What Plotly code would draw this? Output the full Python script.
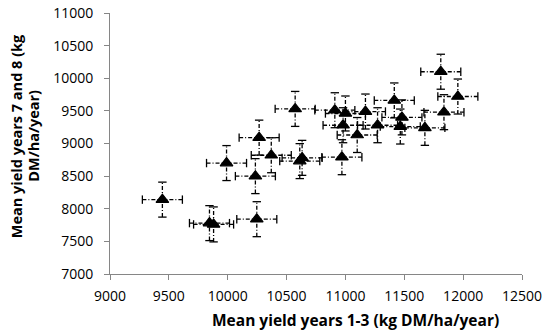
import plotly.graph_objects as go

# Mean yield years 1-3 (x) and years 7 and 8 (y), kg DM/ha/year
x_vals = [9445, 9845, 9880, 9990, 10235, 10247, 10267, 10370, 10573, 10612, 10632,
          10910, 11000, 10980, 10970, 11100, 11170, 11273, 11415, 11480, 11466,
          11675, 11810, 11837, 11955]
y_vals = [8140, 7780, 7760, 8700, 8500, 7840, 9090, 8820, 9530, 8730, 8780,
          9510, 9460, 9280, 8790, 9130, 9490, 9280, 9660, 9400, 9260,
          9240, 10100, 9480, 9720]
x_err = [170] * len(x_vals)
y_err = [268] * len(y_vals)

x_ticks = [9000, 9500, 10000, 10500, 11000, 11500, 12000, 12500]
y_ticks = [7000, 7500, 8000, 8500, 9000, 9500, 10000, 10500, 11000]

x_title = "Mean yield years 1-3 (kg DM/ha/year)"
y_title_lines = ["Mean yield years 7 and 8 (kg", "DM/ha/year)"]

FONT = "Open Sans"
AXIS_COL = "#868686"

# build error bar segments from the data
ex, ey = [], []
for x, y, dx, dy in zip(x_vals, y_vals, x_err, y_err):
    ex += [x - dx, x + dx, None, x, x, None]
    ey += [y, y, None, y - dy, y + dy, None]

fig = go.Figure()
fig.add_trace(go.Scatter(x=ex, y=ey, mode="lines",
                         line=dict(color="black", width=1.3, dash="4px,2px,1px,2px"),
                         hoverinfo="skip", showlegend=False))
# caps
fig.add_trace(go.Scatter(
    x=[x - dx for x, dx in zip(x_vals, x_err)] + [x + dx for x, dx in zip(x_vals, x_err)],
    y=y_vals + y_vals, mode="markers",
    marker=dict(symbol="line-ns", size=6, line=dict(color="black", width=1.3)),
    hoverinfo="skip", showlegend=False))
fig.add_trace(go.Scatter(
    x=x_vals + x_vals,
    y=[y - dy for y, dy in zip(y_vals, y_err)] + [y + dy for y, dy in zip(y_vals, y_err)],
    mode="markers",
    marker=dict(symbol="line-ew", size=6, line=dict(color="black", width=1.3)),
    hoverinfo="skip", showlegend=False))
fig.add_trace(go.Scatter(x=x_vals, y=y_vals, mode="markers",
                         marker=dict(symbol="triangle-up", size=11, color="black",
                                     line=dict(color="black", width=1.2)),
                         showlegend=False))

axis_common = dict(showline=True, linecolor=AXIS_COL, linewidth=1, ticks="outside",
                   tickcolor=AXIS_COL, ticklen=5, showgrid=False, zeroline=False,
                   automargin=False,
                   tickformat="d", tickfont=dict(family=FONT, size=14, color="black"))
fig.update_xaxes(range=[9000, 12500], tickvals=x_ticks, ticklabelstandoff=4, **axis_common)
fig.update_yaxes(range=[7000, 11000], tickvals=y_ticks, ticklabelstandoff=8, **axis_common)

fig.add_annotation(text="<b>" + x_title + "</b>", xref="paper", yref="paper",
                   x=0.595, y=-0.175, xanchor="center", yanchor="middle",
                   showarrow=False, font=dict(family=FONT, size=15.5, color="black"))
for xp, line in zip([-0.225, -0.185], y_title_lines):
    fig.add_annotation(text="<b>" + line + "</b>", xref="paper", yref="paper",
                       x=xp, y=0.529, xanchor="center", yanchor="middle",
                       textangle=-90, showarrow=False,
                       font=dict(family=FONT, size=14.5, color="black"))

fig.update_layout(width=543, height=333, plot_bgcolor="white", paper_bgcolor="white",
                  margin=dict(l=110, r=21, t=13, b=59, pad=0, autoexpand=False),
                  showlegend=False)
fig.write_html("out.html", config={"displayModeBar": False},
               post_script="document.body.style.margin='0';document.body.style.padding='0';")
